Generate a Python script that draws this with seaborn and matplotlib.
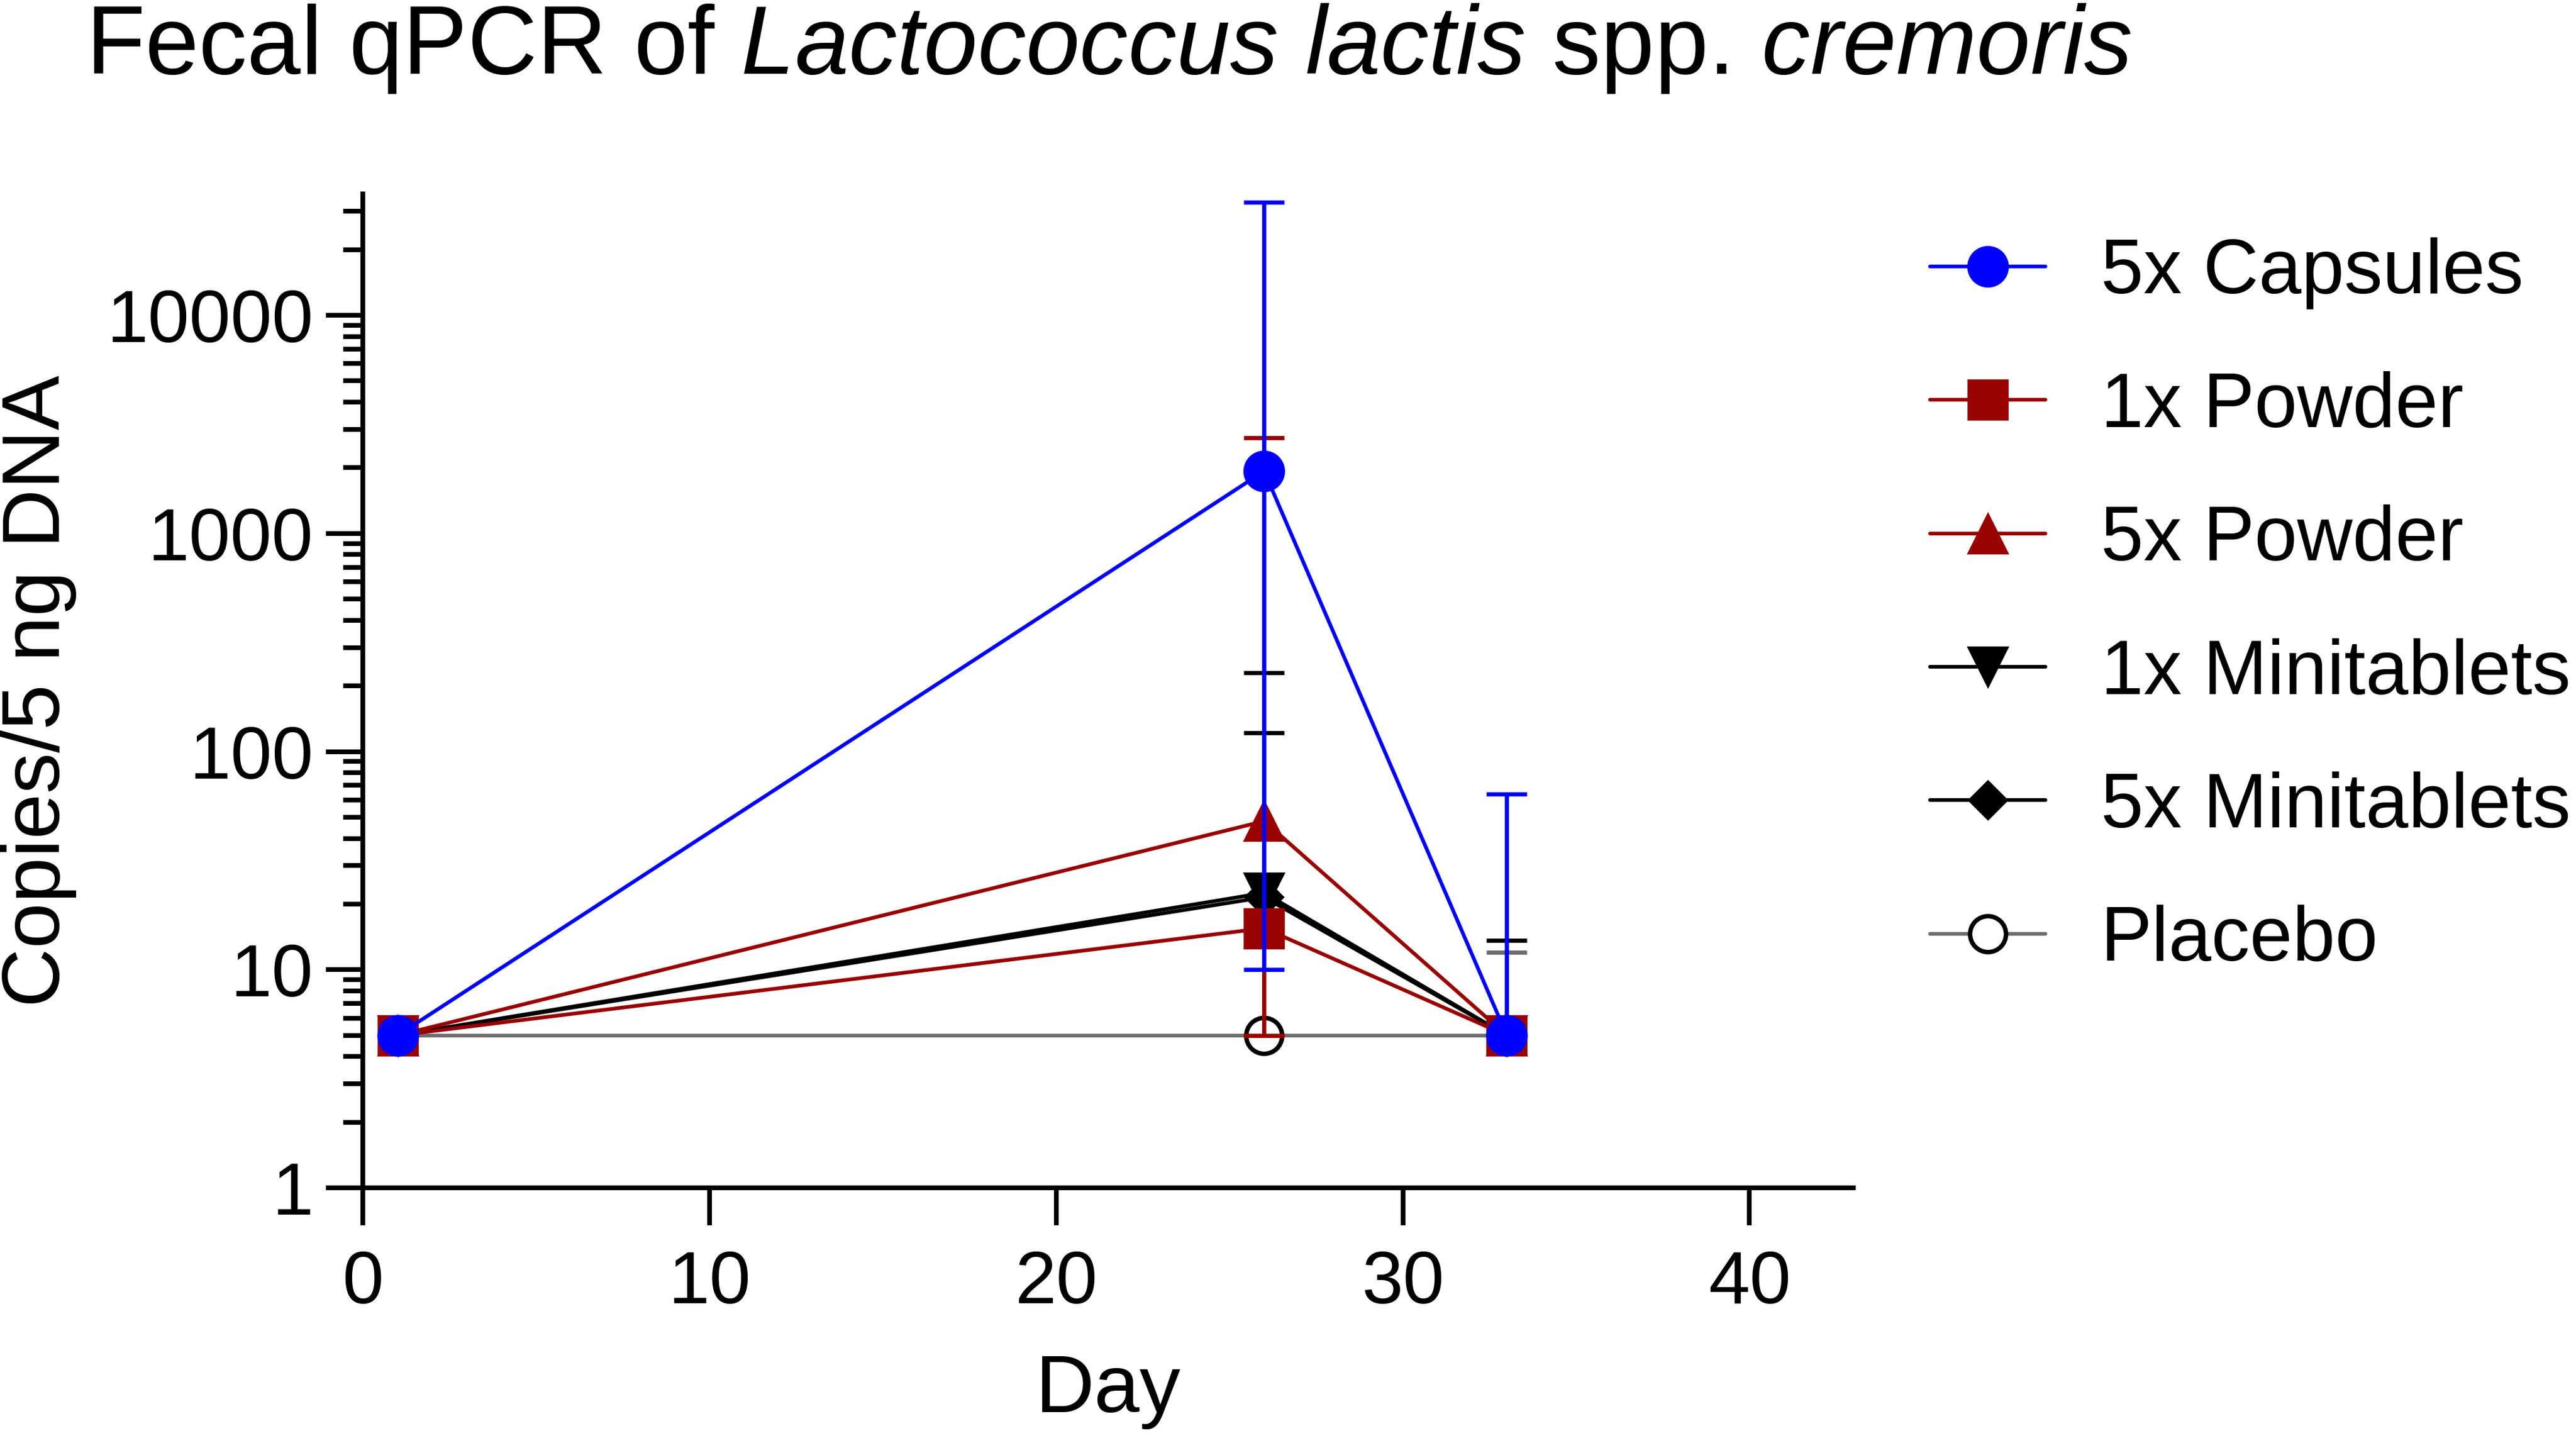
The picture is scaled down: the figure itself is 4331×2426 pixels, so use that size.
import numpy as np
import pandas as pd
import seaborn as sns
import matplotlib.pyplot as plt
from matplotlib.lines import Line2D
from matplotlib.ticker import FixedLocator, LogLocator, NullFormatter, FixedFormatter

# data (copies / 5 ng DNA)
days = [1, 26, 33]
groups = ['5x Capsules', '1x Powder', '5x Powder', '1x Minitablets', '5x Minitablets', 'Placebo']

capsules_5x = [5, 1930, 5]
capsules_5x_lo = [np.nan, 10, np.nan]
capsules_5x_hi = [np.nan, 33000, 64]

powder_1x = [5, 15.5, 5]
powder_1x_lo = [np.nan, 5, np.nan]
powder_1x_hi = [np.nan, np.nan, np.nan]

powder_5x = [5, 48, 5]
powder_5x_lo = [np.nan, np.nan, np.nan]
powder_5x_hi = [np.nan, 2750, np.nan]

minitab_1x = [5, 22.5, 5]
minitab_1x_lo = [np.nan, np.nan, np.nan]
minitab_1x_hi = [np.nan, 230, 13.6]

minitab_5x = [5, 21.5, 5]
minitab_5x_lo = [np.nan, np.nan, np.nan]
minitab_5x_hi = [np.nan, 122, np.nan]

placebo = [5, 5, 5]
placebo_lo = [np.nan, np.nan, np.nan]
placebo_hi = [np.nan, np.nan, 12]

y_ticks = [1, 10, 100, 1000, 10000]
y_ticklabels = ['1', '10', '100', '1000', '10000']
x_ticks = [0, 10, 20, 30, 40]

blue = '#0000FF'
dred = '#990000'
black = '#000000'
grey = '#6E6E6E'

# style per group: colour, marker, size, face colour
styles = {
    '5x Capsules': dict(color=blue, marker='o', ms=16, mfc=blue, mec=blue, cap=blue),
    '1x Powder': dict(color=dred, marker='s', ms=16, mfc=dred, mec=dred, cap=dred),
    '5x Powder': dict(color=dred, marker='^', ms=16, mfc=dred, mec=dred, cap=dred),
    '1x Minitablets': dict(color=black, marker='v', ms=16, mfc=black, mec=black, cap=black),
    '5x Minitablets': dict(color=black, marker='D', ms=11, mfc=black, mec=black, cap=black),
    'Placebo': dict(color=grey, marker='o', ms=14.5, mfc='white', mec=black, cap=grey),
}

series = {
    '5x Capsules': (capsules_5x, capsules_5x_lo, capsules_5x_hi),
    '1x Powder': (powder_1x, powder_1x_lo, powder_1x_hi),
    '5x Powder': (powder_5x, powder_5x_lo, powder_5x_hi),
    '1x Minitablets': (minitab_1x, minitab_1x_lo, minitab_1x_hi),
    '5x Minitablets': (minitab_5x, minitab_5x_lo, minitab_5x_hi),
    'Placebo': (placebo, placebo_lo, placebo_hi),
}

sns.set_style('ticks')
plt.rcParams['font.family'] = ['Liberation Sans', 'DejaVu Sans']
plt.rcParams['mathtext.fontset'] = 'custom'
plt.rcParams['mathtext.rm'] = 'Liberation Sans'
plt.rcParams['mathtext.it'] = 'Liberation Sans:italic'
for k in ['text.color', 'axes.labelcolor', 'xtick.color', 'ytick.color', 'axes.edgecolor']:
    plt.rcParams[k] = 'black'

fig = plt.figure(figsize=(4331 / 300, 2426 / 300), dpi=300)
ax = fig.add_axes([0.1409, 0.1768, 0.5786, 0.6888])
ax.set_yscale('log')

lw = 1.5
elw = 1.7
# draw back to front so the capsules end up on top
for g in groups[::-1]:
    mean, lo, hi = series[g]
    st = styles[g]
    df = pd.DataFrame({'Day': days, 'Copies': mean})
    sns.lineplot(data=df, x='Day', y='Copies', ax=ax, color=st['color'], lw=lw,
                 marker=st['marker'], markersize=st['ms'], markerfacecolor=st['mfc'],
                 markeredgecolor=st['mec'], markeredgewidth=1.8 if g == 'Placebo' else 0.8,
                 errorbar=None, legend=False)
    mean = np.array(mean, dtype=float)
    lo = np.array(lo, dtype=float)
    hi = np.array(hi, dtype=float)
    bottom = np.where(np.isnan(lo), mean, lo)
    top = np.where(np.isnan(hi), mean, hi)
    ax.vlines(days, bottom, top, color=st['cap'], lw=elw)
    ax.plot(days, lo, ls='none', marker='_', ms=16.5, mew=elw, color=st['cap'])
    ax.plot(days, hi, ls='none', marker='_', ms=16.5, mew=elw, color=st['cap'])

ax.set_xlim(0, 43)
ax.set_ylim(1, 36000)
ax.xaxis.set_major_locator(FixedLocator(x_ticks))
ax.yaxis.set_major_locator(FixedLocator(y_ticks))
ax.yaxis.set_major_formatter(FixedFormatter(y_ticklabels))
ax.yaxis.set_minor_locator(LogLocator(base=10, subs=np.arange(2, 10)))
ax.yaxis.set_minor_formatter(NullFormatter())

sns.despine(ax=ax)
for s in ['left', 'bottom']:
    ax.spines[s].set_linewidth(1.9)
    ax.spines[s].set_color('black')
ax.tick_params(axis='both', which='major', length=15, width=1.9, labelsize=30, color='black',
               labelcolor='black')
ax.tick_params(axis='y', which='minor', length=8, width=1.9, color='black')
ax.tick_params(axis='x', pad=10)
ax.tick_params(axis='y', pad=5)

ax.set_xlabel('Day', fontsize=33, color='black')
ax.set_ylabel('Copies/5 ng DNA', fontsize=33, color='black')
ax.xaxis.set_label_coords(0.5, -0.166)
ax.yaxis.set_label_coords(-0.192, 0.5)

fig.text(0.0332, 0.949, r'Fecal qPCR of $\mathit{Lactococcus\ lactis}$ spp. $\mathit{cremoris}$',
         fontsize=39, ha='left', va='baseline', color='black')

handles = []
for g in groups:
    st = styles[g]
    handles.append(Line2D([0], [0], color=st['color'], lw=lw, marker=st['marker'],
                          markersize=st['ms'], markerfacecolor=st['mfc'],
                          markeredgecolor=st['mec'],
                          markeredgewidth=1.8 if g == 'Placebo' else 0.8))
fig.legend(handles, groups, loc='upper left', bbox_to_anchor=(0.7492, 0.8355),
           frameon=False, fontsize=31, handlelength=1.5, handletextpad=0.72,
           labelspacing=0.8, borderpad=0, borderaxespad=0, labelcolor='black')

fig.savefig('out.png', dpi=300)
